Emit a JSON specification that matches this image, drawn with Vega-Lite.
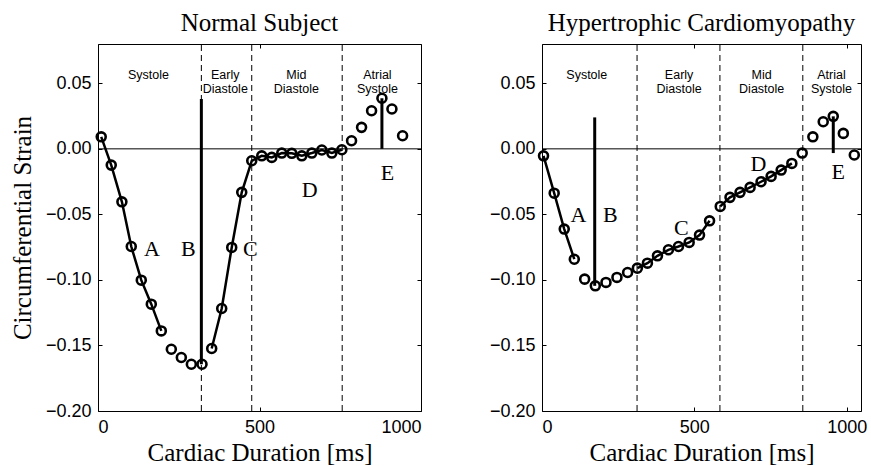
{
  "$schema": "https://vega.github.io/schema/vega-lite/v6.json",
  "padding": {"left": 9, "top": 10, "right": 5, "bottom": 5},
  "background": "white",
  "datasets": {
    "pts": [
      {"p": "N", "t": 10, "s": 0.0092, "seg": "A"},
      {"p": "N", "t": 41, "s": -0.0124, "seg": "A"},
      {"p": "N", "t": 74, "s": -0.0404, "seg": "A"},
      {"p": "N", "t": 103, "s": -0.0745, "seg": "A"},
      {"p": "N", "t": 134, "s": -0.1002, "seg": "A"},
      {"p": "N", "t": 165, "s": -0.1185, "seg": "A"},
      {"p": "N", "t": 196, "s": -0.1389, "seg": "A"},
      {"p": "N", "t": 227, "s": -0.1529, "seg": null},
      {"p": "N", "t": 258, "s": -0.1592, "seg": null},
      {"p": "N", "t": 289, "s": -0.1643, "seg": null},
      {"p": "N", "t": 322, "s": -0.1643, "seg": null},
      {"p": "N", "t": 352, "s": -0.1523, "seg": "C"},
      {"p": "N", "t": 383, "s": -0.1218, "seg": "C"},
      {"p": "N", "t": 414, "s": -0.0752, "seg": "C"},
      {"p": "N", "t": 445, "s": -0.0332, "seg": "C"},
      {"p": "N", "t": 476, "s": -0.0091, "seg": "C"},
      {"p": "N", "t": 507, "s": -0.0053, "seg": "C"},
      {"p": "N", "t": 538, "s": -0.0065, "seg": "C"},
      {"p": "N", "t": 569, "s": -0.0032, "seg": "C"},
      {"p": "N", "t": 600, "s": -0.0034, "seg": "C"},
      {"p": "N", "t": 631, "s": -0.0053, "seg": "C"},
      {"p": "N", "t": 662, "s": -0.0032, "seg": "C"},
      {"p": "N", "t": 693, "s": -0.0009, "seg": "C"},
      {"p": "N", "t": 724, "s": -0.0032, "seg": "C"},
      {"p": "N", "t": 755, "s": -0.0007, "seg": "C"},
      {"p": "N", "t": 785, "s": 0.0062, "seg": null},
      {"p": "N", "t": 816, "s": 0.0164, "seg": null},
      {"p": "N", "t": 847, "s": 0.0291, "seg": null},
      {"p": "N", "t": 879, "s": 0.0386, "seg": null},
      {"p": "N", "t": 910, "s": 0.0304, "seg": null},
      {"p": "N", "t": 943, "s": 0.0100, "seg": null},
      {"p": "H", "t": 5, "s": -0.0053, "seg": "A"},
      {"p": "H", "t": 40, "s": -0.0338, "seg": "A"},
      {"p": "H", "t": 73, "s": -0.0612, "seg": "A"},
      {"p": "H", "t": 106, "s": -0.0842, "seg": "A"},
      {"p": "H", "t": 140, "s": -0.0994, "seg": null},
      {"p": "H", "t": 175, "s": -0.1045, "seg": null},
      {"p": "H", "t": 210, "s": -0.1019, "seg": null},
      {"p": "H", "t": 246, "s": -0.0981, "seg": null},
      {"p": "H", "t": 281, "s": -0.0943, "seg": null},
      {"p": "H", "t": 313, "s": -0.0910, "seg": "C"},
      {"p": "H", "t": 346, "s": -0.0872, "seg": "C"},
      {"p": "H", "t": 379, "s": -0.0816, "seg": "C"},
      {"p": "H", "t": 415, "s": -0.0770, "seg": "C"},
      {"p": "H", "t": 448, "s": -0.0745, "seg": "C"},
      {"p": "H", "t": 483, "s": -0.0714, "seg": "C"},
      {"p": "H", "t": 517, "s": -0.0658, "seg": "C"},
      {"p": "H", "t": 550, "s": -0.0549, "seg": "C"},
      {"p": "H", "t": 585, "s": -0.0439, "seg": "D"},
      {"p": "H", "t": 617, "s": -0.0370, "seg": "D"},
      {"p": "H", "t": 650, "s": -0.0332, "seg": "D"},
      {"p": "H", "t": 683, "s": -0.0294, "seg": "D"},
      {"p": "H", "t": 719, "s": -0.0251, "seg": "D"},
      {"p": "H", "t": 752, "s": -0.0210, "seg": "D"},
      {"p": "H", "t": 785, "s": -0.0162, "seg": "D"},
      {"p": "H", "t": 820, "s": -0.0111, "seg": "D"},
      {"p": "H", "t": 854, "s": -0.0032, "seg": null},
      {"p": "H", "t": 889, "s": 0.0092, "seg": null},
      {"p": "H", "t": 923, "s": 0.0207, "seg": null},
      {"p": "H", "t": 956, "s": 0.0248, "seg": null},
      {"p": "H", "t": 989, "s": 0.0118, "seg": null},
      {"p": "H", "t": 1025, "s": -0.0047, "seg": null}
    ],
    "vl": [
      {"p": "N", "t": 320, "y1": -0.2, "y2": 0.08, "k": "dash"},
      {"p": "N", "t": 476, "y1": -0.2, "y2": 0.08, "k": "dash"},
      {"p": "N", "t": 756, "y1": -0.2, "y2": 0.08, "k": "dash"},
      {"p": "N", "t": 320, "y1": -0.1643, "y2": 0.038, "k": "bar"},
      {"p": "N", "t": 879, "y1": 0, "y2": 0.0386, "k": "stem"},
      {"p": "H", "t": 312, "y1": -0.2, "y2": 0.08, "k": "dash"},
      {"p": "H", "t": 584, "y1": -0.2, "y2": 0.08, "k": "dash"},
      {"p": "H", "t": 856, "y1": -0.2, "y2": 0.08, "k": "dash"},
      {"p": "H", "t": 173, "y1": -0.1045, "y2": 0.024, "k": "bar"},
      {"p": "H", "t": 956, "y1": -0.0032, "y2": 0.0248, "k": "stem"}
    ],
    "lab": [
      {"p": "N", "t": 156, "y": 0.0566, "text": "Systole", "k": "phase"},
      {"p": "N", "t": 394, "y": 0.0566, "text": "Early\nDiastole", "k": "phase"},
      {"p": "N", "t": 614, "y": 0.0566, "text": "Mid\nDiastole", "k": "phase"},
      {"p": "N", "t": 865, "y": 0.0566, "text": "Atrial\nSystole", "k": "phase"},
      {"p": "N", "t": 167, "y": -0.0767, "text": "A", "k": "letter"},
      {"p": "N", "t": 280, "y": -0.0767, "text": "B", "k": "letter"},
      {"p": "N", "t": 472, "y": -0.0767, "text": "C", "k": "letter"},
      {"p": "N", "t": 655, "y": -0.0311, "text": "D", "k": "letter"},
      {"p": "N", "t": 896, "y": -0.0186, "text": "E", "k": "letter"},
      {"p": "H", "t": 147, "y": 0.0566, "text": "Systole", "k": "phase"},
      {"p": "H", "t": 450, "y": 0.0566, "text": "Early\nDiastole", "k": "phase"},
      {"p": "H", "t": 721, "y": 0.0566, "text": "Mid\nDiastole", "k": "phase"},
      {"p": "H", "t": 950, "y": 0.0566, "text": "Atrial\nSystole", "k": "phase"},
      {"p": "H", "t": 120, "y": -0.0504, "text": "A", "k": "letter"},
      {"p": "H", "t": 224, "y": -0.0504, "text": "B", "k": "letter"},
      {"p": "H", "t": 457, "y": -0.06, "text": "C", "k": "letter"},
      {"p": "H", "t": 710, "y": -0.0116, "text": "D", "k": "letter"},
      {"p": "H", "t": 972, "y": -0.0173, "text": "E", "k": "letter"}
    ]
  },
  "spacing": 66,
  "hconcat": [
    {
      "width": 323,
      "height": 367,
      "title": {"text": "Normal Subject"},
      "resolve": {"axis": {"x": "independent", "y": "independent"}},
      "layer": [
        {
          "data": {"name": "vl"},
          "transform": [{"filter": "datum.p == 'N' && datum.k == 'dash'"}],
          "mark": {"type": "rule", "color": "black", "strokeWidth": 1, "strokeDash": [6, 4]},
          "encoding": {
            "x": {"field": "t", "type": "quantitative", "scale": {"domain": [0, 1000], "nice": false}, "axis": {"orient": "top", "labels": false, "title": null, "values": [0, 500, 1000]}},
            "y": {"field": "y1", "type": "quantitative", "scale": {"domain": [-0.2, 0.08], "nice": false}, "axis": {"orient": "right", "labels": false, "title": null, "values": [-0.2, -0.15, -0.1, -0.05, 0, 0.05]}},
            "y2": {"field": "y2"}
          }
        },
        {
          "data": {"values": [{"z": 0}]},
          "mark": {"type": "rule", "color": "black", "strokeWidth": 1},
          "encoding": {"y": {"field": "z", "type": "quantitative", "axis": null}}
        },
        {
          "data": {"name": "vl"},
          "transform": [{"filter": "datum.p == 'N' && datum.k != 'dash'"}],
          "mark": {"type": "rule", "color": "black", "strokeWidth": 3},
          "encoding": {
            "x": {"field": "t", "type": "quantitative", "axis": null},
            "y": {"field": "y1", "type": "quantitative", "axis": null},
            "y2": {"field": "y2"}
          }
        },
        {
          "data": {"name": "pts"},
          "transform": [{"filter": "datum.p == 'N' && datum.seg != null"}],
          "mark": {"type": "line", "color": "black", "strokeWidth": 2.5},
          "encoding": {
            "x": {"field": "t", "type": "quantitative", "axis": null},
            "y": {"field": "s", "type": "quantitative", "axis": null},
            "detail": {"field": "seg"}
          }
        },
        {
          "data": {"name": "pts"},
          "transform": [{"filter": "datum.p == 'N'"}],
          "mark": {"type": "point", "shape": "circle", "filled": false, "color": "black", "strokeWidth": 2.6, "size": 80, "opacity": 1},
          "encoding": {
            "x": {"field": "t", "type": "quantitative", "axis": {"orient": "bottom", "values": [0, 500, 1000], "format": "d", "title": "Cardiac Duration [ms]", "labelPadding": 11, "titlePadding": 4}},
            "y": {"field": "s", "type": "quantitative", "axis": {"orient": "left", "values": [-0.2, -0.15, -0.1, -0.05, 0, 0.05], "format": ".2f", "title": "Circumferential Strain", "labelPadding": 11, "titlePadding": 10}}
          }
        },
        {
          "data": {"name": "lab"},
          "transform": [{"filter": "datum.p == 'N' && datum.k == 'phase'"}],
          "mark": {"type": "text", "font": "Liberation Sans", "fontSize": 12.5, "lineBreak": "\n", "lineHeight": 14.5, "align": "center", "baseline": "middle", "color": "black"},
          "encoding": {
            "x": {"field": "t", "type": "quantitative", "axis": null},
            "y": {"field": "y", "type": "quantitative", "axis": null},
            "text": {"field": "text"}
          }
        },
        {
          "data": {"name": "lab"},
          "transform": [{"filter": "datum.p == 'N' && datum.k == 'letter'"}],
          "mark": {"type": "text", "font": "Liberation Serif", "fontSize": 22, "align": "center", "baseline": "middle", "color": "black"},
          "encoding": {
            "x": {"field": "t", "type": "quantitative", "axis": null},
            "y": {"field": "y", "type": "quantitative", "axis": null},
            "text": {"field": "text"}
          }
        }
      ]
    },
    {
      "width": 319,
      "height": 367,
      "title": {"text": "Hypertrophic Cardiomyopathy"},
      "resolve": {"axis": {"x": "independent", "y": "independent"}},
      "layer": [
        {
          "data": {"name": "vl"},
          "transform": [{"filter": "datum.p == 'H' && datum.k == 'dash'"}],
          "mark": {"type": "rule", "color": "black", "strokeWidth": 1, "strokeDash": [6, 4]},
          "encoding": {
            "x": {"field": "t", "type": "quantitative", "scale": {"domain": [0, 1047], "nice": false}, "axis": {"orient": "top", "labels": false, "title": null, "values": [0, 500, 1000]}},
            "y": {"field": "y1", "type": "quantitative", "scale": {"domain": [-0.2, 0.08], "nice": false}, "axis": {"orient": "right", "labels": false, "title": null, "values": [-0.2, -0.15, -0.1, -0.05, 0, 0.05]}},
            "y2": {"field": "y2"}
          }
        },
        {
          "data": {"values": [{"z": 0}]},
          "mark": {"type": "rule", "color": "black", "strokeWidth": 1},
          "encoding": {"y": {"field": "z", "type": "quantitative", "axis": null}}
        },
        {
          "data": {"name": "vl"},
          "transform": [{"filter": "datum.p == 'H' && datum.k != 'dash'"}],
          "mark": {"type": "rule", "color": "black", "strokeWidth": 3},
          "encoding": {
            "x": {"field": "t", "type": "quantitative", "axis": null},
            "y": {"field": "y1", "type": "quantitative", "axis": null},
            "y2": {"field": "y2"}
          }
        },
        {
          "data": {"name": "pts"},
          "transform": [{"filter": "datum.p == 'H' && datum.seg != null"}],
          "mark": {"type": "line", "color": "black", "strokeWidth": 2.5},
          "encoding": {
            "x": {"field": "t", "type": "quantitative", "axis": null},
            "y": {"field": "s", "type": "quantitative", "axis": null},
            "detail": {"field": "seg"}
          }
        },
        {
          "data": {"name": "pts"},
          "transform": [{"filter": "datum.p == 'H'"}],
          "mark": {"type": "point", "shape": "circle", "filled": false, "color": "black", "strokeWidth": 2.6, "size": 80, "opacity": 1},
          "encoding": {
            "x": {"field": "t", "type": "quantitative", "axis": {"orient": "bottom", "values": [0, 500, 1000], "format": "d", "title": "Cardiac Duration [ms]", "labelPadding": 11, "titlePadding": 4}},
            "y": {"field": "s", "type": "quantitative", "axis": {"orient": "left", "values": [-0.2, -0.15, -0.1, -0.05, 0, 0.05], "format": ".2f", "title": null, "labelPadding": 11}}
          }
        },
        {
          "data": {"name": "lab"},
          "transform": [{"filter": "datum.p == 'H' && datum.k == 'phase'"}],
          "mark": {"type": "text", "font": "Liberation Sans", "fontSize": 12.5, "lineBreak": "\n", "lineHeight": 14.5, "align": "center", "baseline": "middle", "color": "black"},
          "encoding": {
            "x": {"field": "t", "type": "quantitative", "axis": null},
            "y": {"field": "y", "type": "quantitative", "axis": null},
            "text": {"field": "text"}
          }
        },
        {
          "data": {"name": "lab"},
          "transform": [{"filter": "datum.p == 'H' && datum.k == 'letter'"}],
          "mark": {"type": "text", "font": "Liberation Serif", "fontSize": 22, "align": "center", "baseline": "middle", "color": "black"},
          "encoding": {
            "x": {"field": "t", "type": "quantitative", "axis": null},
            "y": {"field": "y", "type": "quantitative", "axis": null},
            "text": {"field": "text"}
          }
        }
      ]
    }
  ],
  "config": {
    "view": {"stroke": "black", "strokeWidth": 1},
    "axis": {"domain": false, "grid": false, "ticks": true, "tickColor": "black", "tickSize": -4, "tickWidth": 1, "labelFont": "Liberation Sans", "labelFontSize": 18, "labelColor": "black", "titleFont": "Liberation Serif", "titleFontSize": 25, "titleFontWeight": "normal", "titleColor": "black"},
    "title": {"font": "Liberation Serif", "fontSize": 25, "fontWeight": "normal", "color": "black", "offset": 8}
  }
}
